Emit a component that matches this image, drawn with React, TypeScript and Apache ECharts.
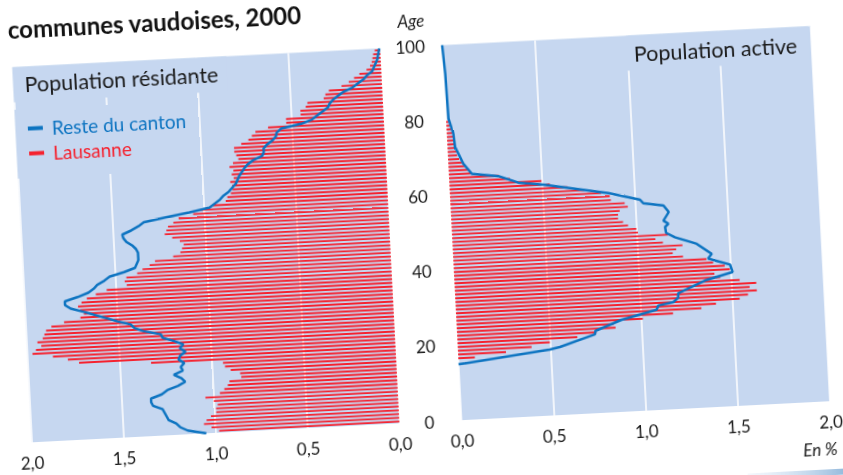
import React, { useEffect, useRef } from 'react';
import * as echarts from 'echarts';

// ---------- data ----------
const AGES: string[] = Array.from({ length: 100 }, (_, i) => String(i));
const AGE_TICK_INTERVAL = 20;
const PCT_TICK_INTERVAL = 0.5;

// Population résidante, Lausanne (%), ages 0..99
const RESIDENT_LAUSANNE = [
  0.98, 1.02, 1.06, 1.045, 1.02, 0.99, 0.99, 0.98, 1.0, 1.045,
  0.965, 0.94, 0.92, 0.91, 0.845, 0.85, 0.9, 0.93, 0.94, 1.33,
  1.72, 1.78, 1.86, 1.97, 1.95, 1.92, 1.94, 1.91, 1.9, 1.89,
  1.86, 1.79, 1.7, 1.68, 1.7, 1.71, 1.69, 1.66, 1.61, 1.55,
  1.44, 1.45, 1.44, 1.38, 1.35, 1.31, 1.28, 1.18, 1.14, 1.13,
  1.12, 1.14, 1.18, 1.22, 1.21, 1.2, 1.17, 1.14, 1.06, 1.02,
  0.95, 0.88, 0.87, 0.85, 0.84, 0.84, 0.85, 0.83, 0.84, 0.83,
  0.85, 0.83, 0.8, 0.81, 0.82, 0.82, 0.78, 0.74, 0.72, 0.7,
  0.63, 0.53, 0.53, 0.45, 0.45, 0.42, 0.41, 0.32, 0.31, 0.29,
  0.22, 0.18, 0.15, 0.12, 0.08, 0.06, 0.05, 0.045, 0.04, 0.03,
];

// Population résidante, reste du canton (%), ages 0..100
const RESIDENT_CANTON = [
  1.05, 1.15, 1.19, 1.21, 1.25, 1.26, 1.27, 1.28, 1.33, 1.34,
  1.34, 1.28, 1.25, 1.19, 1.15, 1.17, 1.21, 1.16, 1.17, 1.15,
  1.18, 1.17, 1.14, 1.17, 1.15, 1.2, 1.26, 1.27, 1.36, 1.41,
  1.43, 1.5, 1.56, 1.62, 1.68, 1.75, 1.78, 1.78, 1.71, 1.65,
  1.62, 1.6, 1.56, 1.53, 1.45, 1.39, 1.38, 1.37, 1.37, 1.37,
  1.38, 1.4, 1.43, 1.445, 1.45, 1.4, 1.36, 1.33, 1.21, 1.08,
  0.97, 0.94, 0.91, 0.89, 0.86, 0.84, 0.82, 0.81, 0.8, 0.785,
  0.77, 0.75, 0.72, 0.67, 0.66, 0.66, 0.64, 0.61, 0.59, 0.585,
  0.56, 0.45, 0.39, 0.36, 0.33, 0.3, 0.29, 0.27, 0.24, 0.21,
  0.16, 0.13, 0.1, 0.08, 0.05, 0.04, 0.03, 0.02, 0.015, 0.01,
  0.005,
];

// Population active, Lausanne (%), ages 0..99
const ACTIVE_LAUSANNE = [
  0, 0, 0, 0, 0, 0, 0, 0, 0, 0,
  0, 0, 0, 0, 0, 0, 0.09, 0.26, 0.4, 0.5,
  0.65, 0.755, 0.86, 0.85, 1.01, 1.175, 1.33, 1.41, 1.54, 1.586,
  1.635, 1.597, 1.634, 1.545, 1.44, 1.41, 1.494, 1.468, 1.406, 1.371,
  1.245, 1.19, 1.21, 1.245, 1.14, 1.1, 1.17, 1.008, 1.0, 0.956,
  0.93, 0.904, 0.905, 0.915, 0.96, 0.944, 0.87, 0.865, 0.82, 0.73,
  0.64, 0.544, 0.5, 0.33, 0.27, 0.12, 0.11, 0.09, 0.075, 0.06,
  0.05, 0.048, 0.045, 0.043, 0.04, 0.035, 0.03, 0.025, 0.02, 0.015,
  0, 0, 0, 0, 0, 0, 0, 0, 0, 0,
  0, 0, 0, 0, 0, 0, 0, 0, 0, 0,
];

// Population active, reste du canton: [%, age]
const ACTIVE_CANTON: [number, number][] = [
  [0.0, 14.9], [0.498, 17.6], [0.553, 18.1], [0.747, 21.0], [0.75, 21.9],
  [0.895, 24.5], [1.087, 26.7], [1.098, 27.8], [1.18, 28.5], [1.207, 29.6],
  [1.209, 30.8], [1.357, 33.8], [1.509, 35.7], [1.497, 37.7], [1.38, 39.6],
  [1.401, 40.8], [1.322, 43.7], [1.207, 45.7], [1.16, 47.0], [1.156, 48.6],
  [1.175, 49.4], [1.149, 50.3], [1.18, 52.5], [1.153, 54.3], [1.045, 55.2],
  [1.028, 56.2], [0.858, 58.4], [0.509, 61.5], [0.374, 62.4], [0.268, 64.4],
  [0.125, 65.4], [0.082, 68.2], [0.042, 72.7], [0.036, 76.3], [0.014, 80.4],
  [0.009, 92.3], [0.0, 100],
];

const TITLE_LINE = 'communes vaudoises, 2000';
const LEFT_TITLE = 'Population résidante';
const RIGHT_TITLE = 'Population active';
const SERIES_CANTON = 'Reste du canton';
const SERIES_LAUSANNE = 'Lausanne';

// ---------- styles ----------
const PANEL = '#c6d7f0';
const RED = '#f5222f';
const BLUE = '#0d74c1';
const INK = '#1a1a1a';
const FONT = 'Lato';

const fmt = (v: number) => v.toFixed(1).replace('.', ',');

export default function App() {
  const ref = useRef<HTMLDivElement>(null);

  useEffect(() => {
    if (!ref.current) return;
    const chart = echarts.init(ref.current, undefined, { renderer: 'svg' });

    const xAxisBase = {
      type: 'value' as const,
      min: 0,
      max: 2,
      interval: PCT_TICK_INTERVAL,
      axisLine: { show: false },
      axisTick: { show: false },
      splitLine: { show: true, lineStyle: { color: '#ffffff', width: 1.5 } },
      axisLabel: { formatter: fmt, margin: 12, fontSize: 17, color: INK, fontFamily: FONT },
    };

    const titleText = { fontFamily: FONT, fontSize: 21.5, fontWeight: 'normal', color: INK, lineHeight: 26 };

    const option: any = {
      animation: false,
      grid: [
        { left: 71.5, top: 96.5, width: 368.5, height: 375.5, show: true, backgroundColor: PANEL, borderWidth: 0 },
        { left: 502, top: 96.5, width: 369, height: 375.5, show: true, backgroundColor: PANEL, borderWidth: 0 },
      ],
      xAxis: [
        { ...xAxisBase, gridIndex: 0, inverse: true },
        { ...xAxisBase, gridIndex: 1 },
      ],
      yAxis: [
        { type: 'value', gridIndex: 0, min: 0, max: 100, show: false },
        { type: 'category', gridIndex: 0, data: AGES, show: false },
        {
          type: 'value', gridIndex: 1, min: 0, max: 100, interval: AGE_TICK_INTERVAL,
          axisLine: { show: false }, axisTick: { show: false }, splitLine: { show: false },
          axisLabel: { align: 'center', margin: 32, fontSize: 17, color: INK, fontFamily: FONT },
        },
        { type: 'category', gridIndex: 1, data: AGES, show: false },
      ],
      title: [
        {
          text: LEFT_TITLE, left: 71.5, top: 96.5, backgroundColor: PANEL,
          padding: [4, 9, 5, 11.5],
          textStyle: titleText,
        },
        {
          text: RIGHT_TITLE, left: 686, top: 96.5, backgroundColor: PANEL,
          padding: [5, 12, 4, 7],
          textStyle: titleText,
        },
      ],
      legend: {
        orient: 'vertical',
        left: 71.5,
        top: 139,
        padding: [9, 3, 14, 12.5],
        backgroundColor: PANEL,
        itemWidth: 15,
        itemHeight: 4,
        itemGap: 4,
        selectedMode: false,
        textStyle: { fontFamily: FONT, fontSize: 19, lineHeight: 21, padding: [0, 0, 0, 4] },
        itemStyle: { borderWidth: 0 },
        data: [
          { name: SERIES_CANTON, icon: 'rect', textStyle: { color: BLUE } },
          { name: SERIES_LAUSANNE, icon: 'rect', textStyle: { color: RED } },
        ],
      },
      graphic: [
        {
          type: 'text',
          style: { text: TITLE_LINE, x: 69, y: 58, font: 'bold 24px Lato', fill: '#111111', align: 'left', verticalAlign: 'middle' },
        },
        {
          type: 'text',
          style: { text: 'Age', x: 472, y: 70, font: 'italic 17px Lato', fill: INK, align: 'center', verticalAlign: 'middle' },
        },
        {
          type: 'text',
          style: { text: 'En %', x: 859, y: 519, font: 'italic 17px Lato', fill: INK, align: 'center', verticalAlign: 'middle' },
        },
        {
          type: 'rect',
          shape: { x: 785, y: 540, width: 165, height: 6 },
          style: {
            fill: new echarts.graphic.LinearGradient(0, 0, 1, 0, [
              { offset: 0, color: 'rgba(199,216,240,0.2)' },
              { offset: 1, color: '#1b6db3' },
            ]),
          },
        },
      ],
      series: [
        {
          type: 'bar', name: SERIES_LAUSANNE, xAxisIndex: 0, yAxisIndex: 1,
          data: RESIDENT_LAUSANNE, barWidth: 1.9, itemStyle: { color: RED }, z: 2,
        },
        {
          type: 'line', name: SERIES_CANTON, xAxisIndex: 0, yAxisIndex: 0,
          data: RESIDENT_CANTON.map((v, i) => [v, i]),
          showSymbol: false, symbol: 'none',
          lineStyle: { color: BLUE, width: 2.5 }, itemStyle: { color: BLUE }, z: 3,
        },
        {
          type: 'bar', name: SERIES_LAUSANNE, xAxisIndex: 1, yAxisIndex: 3,
          data: ACTIVE_LAUSANNE, barWidth: 1.9, itemStyle: { color: RED }, z: 2,
        },
        {
          type: 'line', name: SERIES_CANTON, xAxisIndex: 1, yAxisIndex: 2,
          data: ACTIVE_CANTON,
          showSymbol: false, symbol: 'none',
          lineStyle: { color: BLUE, width: 2.5 }, itemStyle: { color: BLUE }, z: 3,
        },
      ],
    };

    chart.setOption(option);
    return () => chart.dispose();
  }, []);

  return (
    <div
      ref={ref}
      style={{
        position: 'fixed',
        left: -50,
        top: -50,
        width: 943,
        height: 575,
        transform: 'rotate(-2.95deg)',
        transformOrigin: '50% 50%',
        background: 'transparent',
      }}
    />
  );
}
